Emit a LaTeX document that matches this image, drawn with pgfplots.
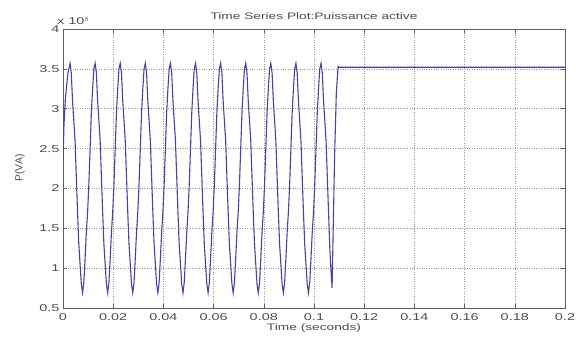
\documentclass[border=0pt]{standalone}
\usepackage{fontspec}
\setmainfont{Liberation Sans}[FakeStretch=1.45]
\newfontfamily\plainsans{Liberation Sans}
\usepackage{pgfplots}
\pgfplotsset{compat=1.18}
\definecolor{sig}{RGB}{66,66,172}
\definecolor{framec}{RGB}{95,95,95}

% Active power over time (values in units of 10^8)
\pgfplotstableread{
t P
0.0000 2.36
0.0004 2.80
0.0009 3.10
0.0014 3.28
0.0020 3.45
0.0028 3.57
0.0033 3.45
0.0038 3.10
0.0043 2.85
0.0048 2.60
0.0053 2.15
0.0058 1.70
0.0063 1.30
0.0068 1.05
0.0073 0.80
0.0078 0.69
0.0083 0.82
0.0088 1.12
0.0093 1.45
0.0098 1.70
0.0103 2.05
0.0108 2.50
0.0113 2.95
0.0118 3.25
0.0123 3.50
0.0128 3.57
0.0133 3.45
0.0138 3.10
0.0143 2.85
0.0148 2.60
0.0153 2.15
0.0158 1.70
0.0163 1.30
0.0168 1.05
0.0173 0.80
0.0178 0.69
0.0183 0.82
0.0188 1.12
0.0193 1.45
0.0198 1.70
0.0203 2.05
0.0208 2.50
0.0213 2.95
0.0218 3.25
0.0223 3.50
0.0228 3.57
0.0233 3.45
0.0238 3.10
0.0243 2.85
0.0248 2.60
0.0253 2.15
0.0258 1.70
0.0263 1.30
0.0268 1.05
0.0273 0.80
0.0278 0.69
0.0283 0.82
0.0288 1.12
0.0293 1.45
0.0298 1.70
0.0303 2.05
0.0308 2.50
0.0313 2.95
0.0318 3.25
0.0323 3.50
0.0328 3.57
0.0333 3.45
0.0338 3.10
0.0343 2.85
0.0348 2.60
0.0353 2.15
0.0358 1.70
0.0363 1.30
0.0368 1.05
0.0373 0.80
0.0378 0.69
0.0383 0.82
0.0388 1.12
0.0393 1.45
0.0398 1.70
0.0403 2.05
0.0408 2.50
0.0413 2.95
0.0418 3.25
0.0423 3.50
0.0428 3.57
0.0433 3.45
0.0438 3.10
0.0443 2.85
0.0448 2.60
0.0453 2.15
0.0458 1.70
0.0463 1.30
0.0468 1.05
0.0473 0.80
0.0478 0.69
0.0483 0.82
0.0488 1.12
0.0493 1.45
0.0498 1.70
0.0503 2.05
0.0508 2.50
0.0513 2.95
0.0518 3.25
0.0523 3.50
0.0528 3.57
0.0533 3.45
0.0538 3.10
0.0543 2.85
0.0548 2.60
0.0553 2.15
0.0558 1.70
0.0563 1.30
0.0568 1.05
0.0573 0.80
0.0578 0.69
0.0583 0.82
0.0588 1.12
0.0593 1.45
0.0598 1.70
0.0603 2.05
0.0608 2.50
0.0613 2.95
0.0618 3.25
0.0623 3.50
0.0628 3.57
0.0633 3.45
0.0638 3.10
0.0643 2.85
0.0648 2.60
0.0653 2.15
0.0658 1.70
0.0663 1.30
0.0668 1.05
0.0673 0.80
0.0678 0.69
0.0683 0.82
0.0688 1.12
0.0693 1.45
0.0698 1.70
0.0703 2.05
0.0708 2.50
0.0713 2.95
0.0718 3.25
0.0723 3.50
0.0728 3.57
0.0733 3.45
0.0738 3.10
0.0743 2.85
0.0748 2.60
0.0753 2.15
0.0758 1.70
0.0763 1.30
0.0768 1.05
0.0773 0.80
0.0778 0.69
0.0783 0.82
0.0788 1.12
0.0793 1.45
0.0798 1.70
0.0803 2.05
0.0808 2.50
0.0813 2.95
0.0818 3.25
0.0823 3.50
0.0828 3.57
0.0833 3.45
0.0838 3.10
0.0843 2.85
0.0848 2.60
0.0853 2.15
0.0858 1.70
0.0863 1.30
0.0868 1.05
0.0873 0.80
0.0878 0.69
0.0883 0.82
0.0888 1.12
0.0893 1.45
0.0898 1.70
0.0903 2.05
0.0908 2.50
0.0913 2.95
0.0918 3.25
0.0923 3.50
0.0928 3.57
0.0933 3.45
0.0938 3.10
0.0943 2.85
0.0948 2.60
0.0953 2.15
0.0958 1.70
0.0963 1.30
0.0968 1.05
0.0973 0.80
0.0978 0.69
0.0983 0.82
0.0988 1.12
0.0993 1.45
0.0998 1.70
0.1003 2.05
0.1008 2.50
0.1013 2.95
0.1018 3.25
0.1023 3.50
0.1028 3.57
0.1033 3.45
0.1038 3.10
0.1043 2.85
0.1048 2.60
0.1053 2.15
0.1058 1.70
0.1063 1.25
0.1068 0.95
0.1072 0.75
0.1076 1.40
0.1082 2.40
0.1089 3.20
0.1096 3.53
0.1100 3.52
0.2000 3.52
}\powerdata

\begin{document}
\begin{tikzpicture}
\begin{axis}[
  at={(0,0)}, anchor=south west,
  scale only axis, width=502bp, height=279bp,
  xmin=0, xmax=0.2, ymin=0.5, ymax=4,
  xtick={0,0.02,0.04,0.06,0.08,0.1,0.12,0.14,0.16,0.18,0.2},
  ytick={0.5,1,1.5,2,2.5,3,3.5,4},
  scaled x ticks=false, scaled y ticks=false,
  xticklabel style={/pgf/number format/fixed, /pgf/number format/precision=2, yshift=-2bp},
  /pgf/number format/assume math mode=true,
  tick label style={font=\fontsize{10}{12}\selectfont, text=black!70},
  grid=major, major grid style={black!40, dotted, line width=0.5pt},
  tick align=inside, major tick length=4bp,
  xtick pos=both, ytick pos=both,
  axis line style={framec, line width=0.8pt},
  tick style={framec, line width=0.6pt},
]
\addplot[sig, line width=1.1pt] table[x=t, y=P] {\powerdata};
\end{axis}
% labels around the axis box
\node[font=\fontsize{9.5}{11}\selectfont, text=black!70] at (251bp,291.5bp) {Time Series Plot:Puissance active};
\node[font=\fontsize{9.5}{11}\selectfont, text=black!70] at (251bp,-20bp) {Time (seconds)};
\node[font=\plainsans\fontsize{10.5}{12}\selectfont, text=black!70, rotate=90] at (-43bp,140bp) {P(VA)};
\node[font=\fontsize{10}{12}\selectfont, text=black!70, anchor=base west, inner sep=0pt] at (-6bp,4bp+279bp) {x 10$^{8}$};
\path[use as bounding box] (-63bp,-32bp) rectangle (519bp,308bp);
\end{tikzpicture}
\end{document}
